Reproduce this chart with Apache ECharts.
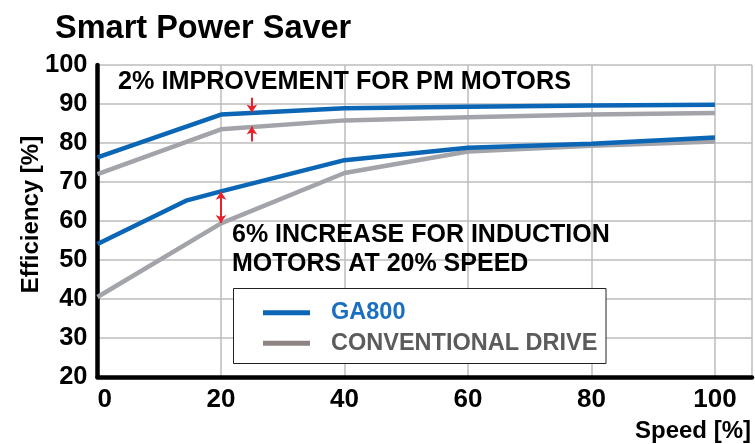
<!DOCTYPE html>
<html>
<head>
<meta charset="utf-8">
<script src="https://cdn.jsdelivr.net/npm/echarts@6/dist/echarts.min.js"></script>
<style>html,body{margin:0;padding:0;background:#fff;}#c{width:755px;height:444px;}</style>
</head>
<body>
<div id="c"></div>
<script>
// ---- data ----
const speedPM = [0, 20, 40, 60, 80, 100];
const ga800PM = [76.3, 87.3, 88.9, 89.3, 89.6, 89.8];
const convPM = [72.0, 83.5, 85.8, 86.6, 87.3, 87.7];
const speedIndGA = [0, 14.5, 20, 40, 60, 80, 100];
const ga800Ind = [54.1, 65.3, 67.6, 75.6, 78.8, 79.8, 81.4];
const speedIndConv = [0, 20, 40, 60, 80, 100];
const convInd = [40.5, 59.4, 72.3, 77.8, 79.3, 80.4];
const xTicks = [0, 20, 40, 60, 80, 100];
const yTicks = [20, 30, 40, 50, 60, 70, 80, 90, 100];
// annotation arrows: [x, fromY, toY, startSymbol, endSymbol]
const arrows = [
  [25, 91.6, 87.8, 'none', 'arrow'],
  [25, 80.4, 84.2, 'none', 'arrow'],
  [20, 67.5, 59.5, 'arrow', 'arrow']
];
const seriesNames = ['GA800', 'CONVENTIONAL DRIVE'];
const titleText = 'Smart Power Saver';
const note1 = '2% IMPROVEMENT FOR PM MOTORS';
const note2a = '6% INCREASE FOR INDUCTION';
const note2b = 'MOTORS AT 20% SPEED';
const xName = 'Speed [%]';
const yName = 'Efficiency [%]';

const FONT = '"Liberation Sans", Arial, Helvetica, sans-serif';
const BLUE = '#0b66b6';
const GRAY = '#a2a4aa';
const zip = (xs, ys) => xs.map((x, i) => [x, ys[i]]);

const chart = echarts.init(document.getElementById('c'), null, {renderer: 'canvas'});
const option = {
  animation: false,
  textStyle: {fontFamily: FONT},
  grid: {left: 97.5, right: -2, top: 65, bottom: 67, containLabel: false},
  xAxis: {
    type: 'value', min: 0, max: 106, interval: 20,
    axisLine: {show: true, onZero: false, lineStyle: {color: '#000', width: 4.5}},
    axisTick: {show: false},
    splitLine: {show: true, lineStyle: {color: '#bdbdbd', width: 1.5}},
    axisLabel: {
      fontSize: 26, fontWeight: 'bold', color: '#000', margin: 10, fontFamily: FONT,
      alignMinLabel: 'left',
      formatter: v => (xTicks.indexOf(v) >= 0 ? String(v) : '')
    }
  },
  yAxis: {
    type: 'value', min: 20, max: 100, interval: 10,
    axisLine: {show: true, onZero: false, lineStyle: {color: '#000', width: 4.5}},
    axisTick: {show: false},
    splitLine: {show: true, lineStyle: {color: '#bdbdbd', width: 1.5}},
    axisLabel: {
      fontSize: 25.5, fontWeight: 'bold', color: '#000', margin: 10, fontFamily: FONT,
      formatter: v => (yTicks.indexOf(v) >= 0 ? String(v) : '')
    }
  },
  legend: {
    orient: 'vertical', left: 263, top: 297.7, z: 20,
    icon: 'rect',
    itemWidth: 47, itemHeight: 5, itemGap: 0.6, padding: 0,
    textStyle: {fontSize: 23.5, fontWeight: 'bold', lineHeight: 30, fontFamily: FONT, padding: [0, 0, 0, 16]},
    data: [
      {name: seriesNames[0], textStyle: {color: '#1a6fc0'}, itemStyle: {color: BLUE}},
      {name: seriesNames[1], textStyle: {color: '#5b5b5b'}, itemStyle: {color: '#8e8482'}}
    ]
  },
  series: [
    {name: seriesNames[1], type: 'line', data: zip(speedPM, convPM), symbol: 'none',
     lineStyle: {color: GRAY, width: 4.5}, itemStyle: {color: GRAY}, z: 2},
    {name: seriesNames[1], type: 'line', data: zip(speedIndConv, convInd), symbol: 'none',
     lineStyle: {color: GRAY, width: 4.5}, itemStyle: {color: GRAY}, z: 2},
    {name: seriesNames[0], type: 'line', data: zip(speedPM, ga800PM), symbol: 'none',
     lineStyle: {color: BLUE, width: 4.5}, itemStyle: {color: BLUE}, z: 3},
    {name: seriesNames[0], type: 'line', data: zip(speedIndGA, ga800Ind), symbol: 'none',
     lineStyle: {color: BLUE, width: 4.5}, itemStyle: {color: BLUE}, z: 3,
     markLine: {
       silent: true, symbolSize: 8, animation: false,
       label: {show: false},
       lineStyle: {color: '#e8212b', width: 2, type: 'solid'},
       emphasis: {disabled: true},
       data: arrows.map(a => [
         {coord: [a[0], a[1]], symbol: a[3]},
         {coord: [a[0], a[2]], symbol: a[4]}
       ])
     }}
  ],
  graphic: [
    {type: 'text', x: 55, y: 29.5, z: 5,
     style: {text: titleText, font: 'bold 32.5px ' + FONT, fill: '#000', align: 'left', verticalAlign: 'middle'}},
    {type: 'text', x: 118, y: 82, z: 5,
     style: {text: note1, font: 'bold 25.2px ' + FONT, fill: '#000', align: 'left', verticalAlign: 'middle'}},
    {type: 'text', x: 232, y: 235.5, z: 5,
     style: {text: note2a, font: 'bold 25px ' + FONT, fill: '#000', align: 'left', verticalAlign: 'middle'}},
    {type: 'text', x: 232, y: 264.5, z: 5,
     style: {text: note2b, font: 'bold 25px ' + FONT, fill: '#000', align: 'left', verticalAlign: 'middle'}},
    {type: 'text', x: 751, y: 431.5, z: 5,
     style: {text: xName, font: 'bold 24px ' + FONT, fill: '#000', align: 'right', verticalAlign: 'middle'}},
    {type: 'text', x: 31, y: 214.5, rotation: Math.PI / 2, z: 5,
     style: {text: yName, font: 'bold 24px ' + FONT, fill: '#000', align: 'center', verticalAlign: 'middle'}},
    {type: 'rect', z: 10, shape: {x: 233.5, y: 288.5, width: 372.5, height: 75},
     style: {fill: '#fff', stroke: '#222', lineWidth: 1}}
  ]
};
chart.setOption(option);
</script>
</body>
</html>
